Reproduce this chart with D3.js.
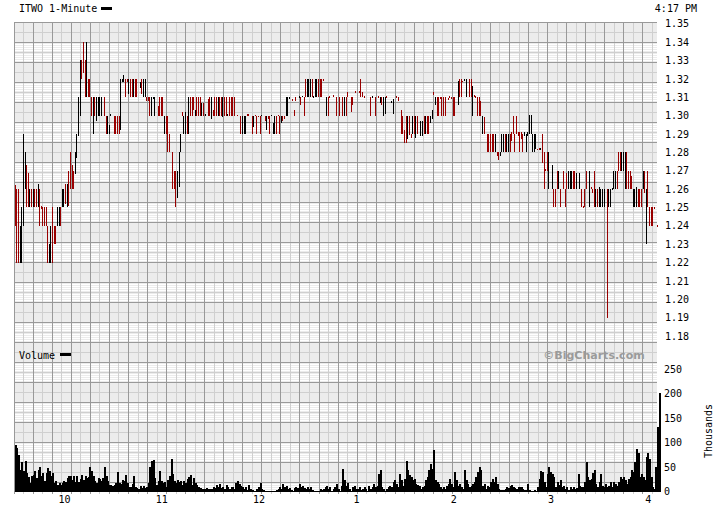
<!DOCTYPE html>
<html><head><meta charset="utf-8">
<script src="https://cdn.jsdelivr.net/npm/d3@7"></script>
<style>
body{margin:0;background:#fff;}
text{font-family:"DejaVu Sans Mono","Liberation Mono",monospace;font-size:10px;fill:#000;}
</style>
</head><body>
<svg id="c" width="720" height="510"></svg>
<script>
// ---- data (minute index = minutes after 9:30) ----
const titleText = "ITWO 1-Minute";
const timeStamp = "4:17 PM";
const hourTicks = [30, 90, 150, 210, 270, 330, 390];
const hourLabels = ["10", "11", "12", "1", "2", "3", "4"];
const priceTicks = [1.18,1.19,1.20,1.21,1.22,1.23,1.24,1.25,1.26,1.27,1.28,1.29,1.30,1.31,1.32,1.33,1.34,1.35];
const volumeTicks = [0, 50, 100, 150, 200, 250];

const priceHigh = [
1.262,1.26,1.26,1.24,1.25,1.29,1.28,1.273,1.269,1.26,
1.26,1.26,1.26,1.26,1.263,1.26,1.251,1.25,1.25,1.25,
1.24,1.23,1.24,1.25,1.24,1.24,1.25,1.25,1.25,1.26,
1.26,1.263,1.263,1.27,1.28,1.273,1.27,1.28,1.29,1.31,
1.33,1.33,1.34,1.33,1.34,1.32,1.32,1.31,1.31,1.31,
1.31,1.31,1.31,1.31,null,1.31,1.30,1.30,1.295,1.301,
null,1.30,1.30,1.30,1.30,1.32,1.32,1.322,1.32,1.32,
1.32,1.32,1.32,1.32,1.32,1.32,null,1.318,1.32,1.32,
1.32,1.31,1.31,1.31,1.31,1.31,1.31,null,1.305,1.31,
1.31,1.31,1.30,1.30,1.30,1.29,null,1.28,1.27,1.27,
1.27,1.28,1.29,1.302,1.30,1.302,1.30,1.31,1.31,1.31,
1.31,1.303,1.31,1.31,1.31,1.307,1.307,1.301,null,1.309,
1.31,1.31,1.303,1.31,1.31,1.31,1.31,1.31,1.31,1.31,
1.31,1.301,1.31,1.31,1.31,1.31,null,1.3005,null,1.30,
1.30,1.30,1.30,1.301,1.301,null,1.30,1.30,1.3005,1.30,
1.30,1.30,1.3005,null,1.30,1.30,1.30,1.30,1.3005,1.296,
1.30,1.30,1.3005,1.30,1.30,1.30,1.30,1.31,1.31,1.31,
null,1.309,1.303,1.31,null,1.3105,1.31,1.3105,1.31,1.32,
1.32,1.32,1.32,1.32,1.3105,1.32,1.32,1.32,1.32,1.32,
1.32,null,1.31,1.31,1.3105,null,1.311,null,1.31,null,
1.31,null,1.31,1.31,1.31,1.313,null,1.31,1.31,null,
1.3135,null,1.3135,1.32,1.313,1.3105,null,null,null,1.31,
1.3105,null,1.31,null,1.3105,1.31,1.31,1.31,1.31,1.3105,
null,null,1.308,1.309,null,1.3105,1.31,null,1.303,1.30,
1.292,1.30,1.30,1.30,1.29,1.30,1.30,1.30,1.30,null,
1.297,1.297,1.30,1.30,1.30,1.30,1.30,1.303,1.313,1.31,
1.31,1.31,1.31,1.31,1.31,1.31,null,1.3095,1.3105,1.31,
1.31,1.31,null,1.319,1.32,1.32,1.319,1.32,1.32,null,
1.32,1.32,1.316,1.311,1.3105,1.31,1.31,1.308,1.30,1.299,
null,1.29,1.29,1.29,1.29,1.29,1.29,1.28,1.28,1.28,
1.29,1.29,1.29,1.29,1.29,1.29,1.291,1.30,1.29,1.30,
1.291,1.291,1.291,1.29,1.291,1.29,1.291,1.3005,1.3005,1.29,
1.29,1.29,1.282,1.2825,1.2825,1.29,1.28,1.271,1.28,1.28,
null,1.273,1.26,1.26,1.27,1.27,1.26,null,1.27,1.26,
1.269,1.27,1.27,1.27,1.27,1.27,1.269,null,1.269,1.26,
1.2505,1.26,1.27,null,1.27,1.261,1.26,1.27,1.26,1.26,
1.261,1.26,1.26,1.26,null,1.26,1.26,1.26,1.2605,1.27,
1.27,1.27,1.28,1.28,1.28,1.28,1.28,1.28,1.27,1.27,
1.267,1.26,1.26,1.261,1.26,1.26,1.26,1.27,1.27,1.26,
1.27,1.25,1.25,1.25,1.25,null,1.2405];

const priceLow = [
1.24,1.22,1.22,1.22,1.22,1.24,1.26,1.25,1.25,1.25,
1.25,1.25,1.25,1.25,1.25,1.24,1.249,1.24,1.24,1.24,
1.22,1.22,1.22,1.22,1.23,1.23,1.24,1.24,1.24,1.25,
1.25,1.252,1.25,1.251,1.26,1.26,1.26,1.268,1.277,1.289,
1.30,1.32,1.323,1.31,1.31,1.31,1.31,1.30,1.29,1.30,
1.297,1.30,1.30,1.30,null,1.30,1.29,1.29,1.29,1.30,
null,1.29,1.29,1.29,1.29,1.292,1.318,1.318,1.31,1.318,
1.312,1.31,1.31,1.31,1.31,1.31,null,1.315,1.312,1.31,
1.31,1.308,1.308,1.30,1.30,1.309,1.30,null,1.30,1.30,
1.30,1.30,1.29,1.29,1.28,1.28,null,1.26,1.26,1.25,
1.255,1.261,1.28,1.30,1.29,1.29,1.29,1.29,1.30,1.30,
1.303,1.30,1.30,1.30,1.30,1.30,1.30,1.30,null,1.30,
1.30,1.298,1.30,1.30,1.30,1.30,1.30,1.30,1.299,1.30,
1.30,1.30,1.30,1.30,1.30,1.30,null,1.2995,null,1.29,
1.29,1.29,1.29,1.2995,1.2995,null,1.29,1.294,1.2995,1.29,
1.299,1.29,1.2995,null,1.297,1.292,1.298,1.29,1.2995,1.29,
1.29,1.29,1.2995,1.29,1.296,1.297,1.298,1.30,1.30,1.309,
null,1.308,1.2995,1.308,null,1.3095,1.306,1.31,1.30,1.31,
1.31,1.31,1.31,1.31,1.3095,1.31,1.31,1.31,1.31,1.31,
1.319,null,1.30,1.30,1.3095,null,1.31,null,1.30,null,
1.30,null,1.30,1.30,1.30,1.31,null,1.302,1.306,null,
1.3125,null,1.3125,1.31,1.31,1.3095,null,null,null,1.30,
1.3095,null,1.30,null,1.3095,1.307,1.306,1.30,1.301,1.3095,
null,null,1.307,1.301,null,1.3095,1.308,null,1.29,1.29,
1.285,1.285,1.287,1.2895,1.288,1.29,1.29,1.288,1.29,null,
1.289,1.289,1.29,1.29,1.29,1.29,1.296,1.298,1.311,1.306,
1.30,1.30,1.309,1.30,1.30,1.30,null,1.3085,1.3095,1.309,
1.30,1.30,null,1.306,1.31,1.31,1.318,1.319,1.31,null,
1.31,1.31,1.30,1.31,1.3095,1.30,1.30,1.30,1.29,1.29,
null,1.28,1.28,1.28,1.28,1.28,1.28,1.278,1.276,1.278,
1.28,1.28,1.28,1.28,1.28,1.28,1.286,1.29,1.28,1.29,
1.289,1.28,1.287,1.28,1.289,1.28,1.289,1.29,1.29,1.28,
1.28,1.282,1.281,1.2815,1.2815,1.274,1.26,1.27,1.27,1.26,
null,1.26,1.25,1.25,1.26,1.26,1.25,null,1.26,1.25,
1.26,1.26,1.26,1.26,1.26,1.26,1.26,null,1.26,1.25,
1.2495,1.25,1.26,null,1.25,1.26,1.258,1.25,1.25,1.25,
1.25,1.25,1.25,1.25,null,1.19,1.25,1.25,1.2595,1.26,
1.26,1.26,1.27,1.27,1.27,1.27,1.26,1.26,1.26,1.26,
1.26,1.25,1.25,1.25,1.25,1.25,1.25,1.26,1.258,1.23,
1.25,1.24,1.24,1.24,1.249,null,1.2395];

// 1 = down bar (red), 0 = up bar (black)
const priceDown = [
1,1,1,0,0,0,0,1,1,0,
1,0,1,1,0,1,1,1,1,1,
1,0,0,1,1,1,0,0,1,0,
0,1,0,1,1,1,1,0,0,0,
0,1,1,1,0,1,1,1,0,1,
0,0,0,0,null,1,1,0,0,0,
null,1,1,1,1,0,0,0,1,1,
0,1,1,0,1,1,null,0,1,0,
0,1,1,1,0,0,0,null,1,1,
1,1,0,1,1,1,null,1,1,1,
0,0,0,1,0,0,1,0,1,1,
1,0,1,1,1,0,1,0,null,1,
1,0,1,1,1,0,1,1,0,1,
1,0,1,1,1,1,null,1,null,1,
0,0,0,1,1,null,1,0,1,1,
1,1,0,null,1,0,1,1,0,0,
0,1,1,1,0,1,1,0,0,0,
null,1,1,1,null,0,1,0,1,1,
0,0,0,1,0,0,0,1,1,1,
1,null,0,1,1,null,1,null,1,null,
1,null,1,0,1,1,null,1,1,null,
1,null,1,1,1,1,null,null,null,1,
0,null,1,null,1,0,1,0,0,1,
null,null,0,0,null,1,1,null,1,1,
1,1,0,1,1,0,1,0,1,null,
0,0,1,0,1,1,0,0,1,0,
1,1,1,1,1,1,null,1,1,1,
1,1,null,0,1,1,1,0,0,null,
1,1,0,1,1,1,1,1,0,1,
null,1,1,1,1,1,0,1,1,0,
0,0,1,0,0,1,1,1,1,1,
1,1,1,1,0,0,0,0,0,0,
0,0,1,1,0,1,1,1,1,0,
null,0,1,1,1,0,1,null,1,1,
1,0,0,0,1,1,0,null,0,1,
1,1,1,null,0,1,1,1,0,1,
0,0,0,0,null,1,0,0,0,0,
0,1,1,1,0,0,0,1,1,1,
1,0,0,0,1,1,1,0,1,0,
1,1,1,1,1,null,1];

// volume in thousands per minute
const volumeK = [
96,89,75,45,60,41,62,38,30,17,
31,34,41,27,45,51,31,38,21,38,
49,41,31,38,17,21,14,17,14,17,
21,20,27,31,31,24,31,20,31,20,
25,34,24,31,27,30,51,41,31,21,
17,27,25,22,27,51,31,21,14,14,
12,14,17,40,17,16,24,21,34,17,
10,9,16,31,9,7,6,11,8,11,
8,10,17,51,62,65,27,14,21,41,
21,17,19,10,24,31,67,36,21,17,
24,19,21,14,21,17,25,29,34,14,
27,17,14,10,7,6,5,6,7,5,
5,6,10,7,14,10,16,8,10,6,
14,10,6,10,9,6,17,21,16,12,
9,5,9,3,14,5,3,2,2,5,
9,17,5,3,2,1,1,1,1,1,
1,3,5,9,5,16,9,12,5,7,
3,2,7,10,8,16,9,12,7,5,
9,5,9,3,2,1,1,2,5,3,
5,9,12,5,9,2,5,9,16,5,
2,12,47,23,12,17,5,2,9,12,
5,6,9,3,5,9,5,2,12,5,
9,16,9,12,36,45,9,5,2,5,
9,12,9,19,23,16,9,36,23,12,
26,62,43,33,29,24,26,16,14,12,
5,9,12,23,29,43,57,47,84,23,
19,16,9,5,9,5,12,16,26,16,
9,40,23,12,16,9,5,43,23,16,
9,12,16,19,29,40,50,43,12,16,
5,12,9,19,26,19,29,16,5,3,
3,3,5,9,8,12,14,10,8,5,
9,10,9,5,3,3,16,3,2,2,
3,2,9,26,42,40,19,9,36,50,
40,35,29,9,19,14,23,9,12,5,
9,3,9,5,9,5,8,36,12,10,
9,19,60,29,23,26,38,43,16,9,
19,36,12,9,16,9,12,19,9,19,
16,12,19,29,26,29,23,16,26,29,
43,40,60,86,78,29,36,29,23,71,
78,67,29,9,5,50,132,201];

// ---- drawing ----
const svg = d3.select("#c");
const L = 14, R = 657, T = 22, B = 491;
const x = d3.scaleLinear().domain([0, 390]).range([15.3, 15.3 + 390 * 1.622]);
const yP = d3.scaleLinear().domain([1.18, 1.35]).range([336, 23.7]);
const yV = d3.scaleLinear().domain([0, 250]).range([491.5, 369.3]);

const defs = svg.append("defs");
const pat = defs.append("pattern").attr("id", "stripe")
  .attr("width", 4).attr("height", 2).attr("patternUnits", "userSpaceOnUse");
pat.append("rect").attr("width", 4).attr("height", 2).attr("fill", "#ececec");
pat.append("rect").attr("width", 4).attr("height", 1).attr("fill", "#ffffff");
defs.append("clipPath").attr("id", "plotclip").append("rect")
  .attr("x", L).attr("y", T).attr("width", R - L).attr("height", B - T);

const grid = svg.append("g").attr("shape-rendering", "crispEdges");
grid.append("rect").attr("x", L).attr("y", T).attr("width", R - L).attr("height", B - T).attr("fill", "#ececec");
const bandG = grid.append("g").attr("clip-path", "url(#plotclip)");
for (let k = 1; k < 24; k += 2) {
  bandG.append("rect").attr("x", L).attr("y", Math.round(21.7 + 20 * k) + 1)
    .attr("width", R - L).attr("height", 19).attr("fill", "url(#stripe)");
}
// light lines
for (let k = 0; k < 24; k++) {
  const yy = Math.round(31.7 + 20 * k) + 0.5;
  if (yy < B) grid.append("line").attr("x1", L).attr("x2", R).attr("y1", yy).attr("y2", yy).attr("stroke", "#cfcfcf");
}
for (let k = 0; k < 34; k++) {
  const xx = Math.round(13.7 + 9.525 + 19.05 * k) + 0.5;
  if (xx < R) grid.append("line").attr("x1", xx).attr("x2", xx).attr("y1", T).attr("y2", B + 3).attr("stroke", "#cfcfcf");
}
// dark lines
for (let k = 0; k < 24; k++) {
  const yy = Math.round(21.7 + 20 * k) + 0.5;
  grid.append("line").attr("x1", L).attr("x2", R).attr("y1", yy).attr("y2", yy).attr("stroke", "#999");
}
for (let k = 0; k < 34; k++) {
  const xx = Math.round(13.7 + 19.05 * k) + 0.5;
  grid.append("line").attr("x1", xx).attr("x2", xx).attr("y1", T).attr("y2", B + 3).attr("stroke", "#999");
}
grid.append("line").attr("x1", L).attr("x2", R).attr("y1", B + 0.5).attr("y2", B + 0.5).attr("stroke", "#888");

// volume bars
const volData = volumeK.map((v, i) => ({ m: i, v }));
svg.append("g").attr("shape-rendering", "crispEdges").selectAll("rect").data(volData).join("rect")
  .attr("x", d => Math.floor(x(d.m)))
  .attr("width", 2)
  .attr("y", d => yV(d.v))
  .attr("height", d => Math.max(0.6, yV(0) - yV(d.v)))
  .attr("fill", "#000");

// price bars
const bars = priceHigh.map((h, i) => ({ m: i, hi: h, lo: priceLow[i], down: priceDown[i] }))
  .filter(d => d.hi !== null);
svg.append("g").attr("shape-rendering", "crispEdges").selectAll("rect").data(bars).join("rect")
  .attr("x", d => Math.floor(x(d.m)))
  .attr("width", 1)
  .attr("y", d => yP(d.hi))
  .attr("height", d => Math.max(1.2, yP(d.lo) - yP(d.hi)))
  .attr("fill", d => d.down ? "#990000" : "#000");

// axes
const pAxis = svg.append("g").attr("transform", `translate(${R},0)`)
  .call(d3.axisRight(yP).tickValues(priceTicks).tickFormat(d3.format(".2f")).tickSize(0).tickPadding(8));
const vAxis = svg.append("g").attr("transform", `translate(${R},0)`)
  .call(d3.axisRight(yV).tickValues(volumeTicks).tickFormat(d3.format("d")).tickSize(0).tickPadding(7));
const hAxis = svg.append("g").attr("transform", `translate(0,${B})`)
  .call(d3.axisBottom(x).tickValues(hourTicks).tickFormat((d, i) => hourLabels[i]).tickSize(0).tickPadding(5));
[pAxis, vAxis, hAxis].forEach(a => {
  a.select(".domain").remove();
  a.selectAll("text").attr("font-family", null).attr("font-size", null).attr("fill", "#000");
});

// titles / legends
svg.append("text").attr("x", 19).attr("y", 12).text(titleText);
svg.append("rect").attr("x", 101).attr("y", 7).attr("width", 11).attr("height", 3).attr("fill", "#000");
svg.append("text").attr("x", 697).attr("y", 12).attr("text-anchor", "end").text(timeStamp);
svg.append("text").attr("x", 19).attr("y", 358.5).text("Volume");
svg.append("rect").attr("x", 60).attr("y", 353).attr("width", 11).attr("height", 3).attr("fill", "#000");
svg.append("text").attr("x", 594).attr("y", 359)
  .attr("text-anchor", "middle")
  .style("font-family", "'DejaVu Sans', Verdana, sans-serif").style("font-weight", "bold").style("font-size", "11px")
  .style("fill", "#9a9a9a").text("\u00A9BigCharts.com");
svg.append("text").attr("transform", "translate(712,431) rotate(-90)")
  .attr("text-anchor", "middle").text("Thousands");
</script>
</body></html>
